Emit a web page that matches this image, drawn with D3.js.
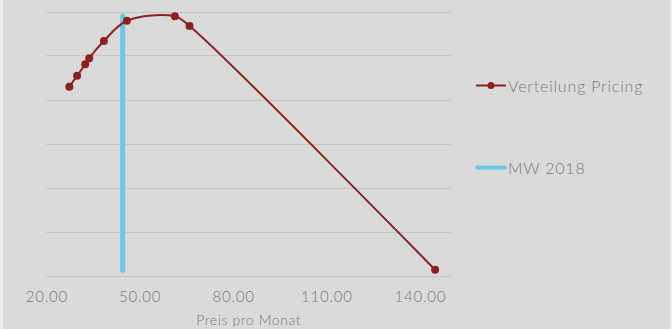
<!DOCTYPE html>
<html>
<head>
<meta charset="utf-8">
<script src="https://cdn.jsdelivr.net/npm/d3@7"></script>
<style>
  html, body { margin: 0; padding: 0; background: #ececec; }
  svg { display: block; }
  text { font-family: "Lato", "Open Sans", sans-serif; font-weight: 300; fill: #7a7a7a; }
</style>
</head>
<body>
<svg id="chart" width="672" height="329"></svg>
<script>
// Price distribution (x = monthly price, y = share)
const priceX = [27.4, 29.9, 32.5, 33.8, 38.5, 45.9, 61.3, 66.0, 144.9];
const shareY = [42.9, 45.4, 48.0, 49.4, 53.3, 57.9, 58.9, 56.7, 1.3];

// Mean value 2018, drawn as a vertical marker line
const mwX = [44.55, 44.55];
const mwY = [1.2, 59.0];

const xTicks = [20, 50, 80, 110, 140];
const yGrid = [0, 10, 20, 30, 40, 50, 60];

const seriesNames = ["Verteilung Pricing", "MW 2018"];
const xTitle = "Preis pro Monat";

const colRed = "#8b2222";
const colBlue = "#6cc6e6";

const svg = d3.select("#chart");

// plot background with thin lighter edges
svg.append("rect").attr("x", 3).attr("y", 0).attr("width", 667).attr("height", 329).attr("fill", "#dadada");

const x = d3.scaleLinear().domain([20, 150]).range([46.3, 451]);
const y = d3.scaleLinear().domain([0, 60]).range([275.5, 11.5]);

// horizontal gridlines
svg.append("g").selectAll("line").data(yGrid).join("line")
  .attr("x1", x(20)).attr("x2", x(150))
  .attr("y1", d => Math.round(y(d)) + 0.5).attr("y2", d => Math.round(y(d)) + 0.5)
  .attr("stroke", "#c6c6c6").attr("stroke-width", 1);

// x axis tick labels
const xAxis = d3.axisBottom(x).tickValues(xTicks).tickFormat(d3.format(".2f")).tickSize(0).tickPadding(0);
const gx = svg.append("g").attr("transform", "translate(0,291)").call(xAxis);
gx.select(".domain").remove();
gx.selectAll("text").attr("fill", "#7a7a7a").attr("font-size", 15)
  .attr("font-family", "Lato, sans-serif").attr("font-weight", 300).attr("letter-spacing", "0.8px");

svg.append("text").attr("x", (x(20) + x(150)) / 2).attr("y", 325)
  .attr("text-anchor", "middle").attr("font-size", 14).attr("letter-spacing", "0.6px").text(xTitle);

// MW 2018 line
const pts = priceX.map((d, i) => [d, shareY[i]]);
const mwPts = mwX.map((d, i) => [d, mwY[i]]);

svg.append("path").datum(mwPts)
  .attr("d", d3.line().x(d => x(d[0])).y(d => y(d[1])))
  .attr("stroke", colBlue).attr("stroke-width", 5).attr("stroke-linecap", "round").attr("fill", "none");

// distribution line, smoothed
svg.append("path").datum(pts)
  .attr("d", d3.line().x(d => x(d[0])).y(d => y(d[1])).curve(d3.curveCatmullRom.alpha(0.5)))
  .attr("stroke", colRed).attr("stroke-width", 2).attr("fill", "none");

svg.append("g").selectAll("circle").data(pts).join("circle")
  .attr("cx", d => x(d[0])).attr("cy", d => y(d[1])).attr("r", 4).attr("fill", colRed);

// legend
const leg = svg.append("g");
leg.append("line").attr("x1", 476).attr("x2", 506).attr("y1", 85.5).attr("y2", 85.5)
  .attr("stroke", colRed).attr("stroke-width", 2);
leg.append("circle").attr("cx", 491).attr("cy", 85.5).attr("r", 3.5).attr("fill", colRed);
leg.append("text").attr("x", 508).attr("y", 92).attr("font-size", 16).attr("letter-spacing", "0.8px").text(seriesNames[0]);

leg.append("line").attr("x1", 477).attr("x2", 505).attr("y1", 167.5).attr("y2", 167.5)
  .attr("stroke", colBlue).attr("stroke-width", 4).attr("stroke-linecap", "round");
leg.append("text").attr("x", 508).attr("y", 174).attr("font-size", 16).attr("letter-spacing", "0.8px").text(seriesNames[1]);
</script>
</body>
</html>
